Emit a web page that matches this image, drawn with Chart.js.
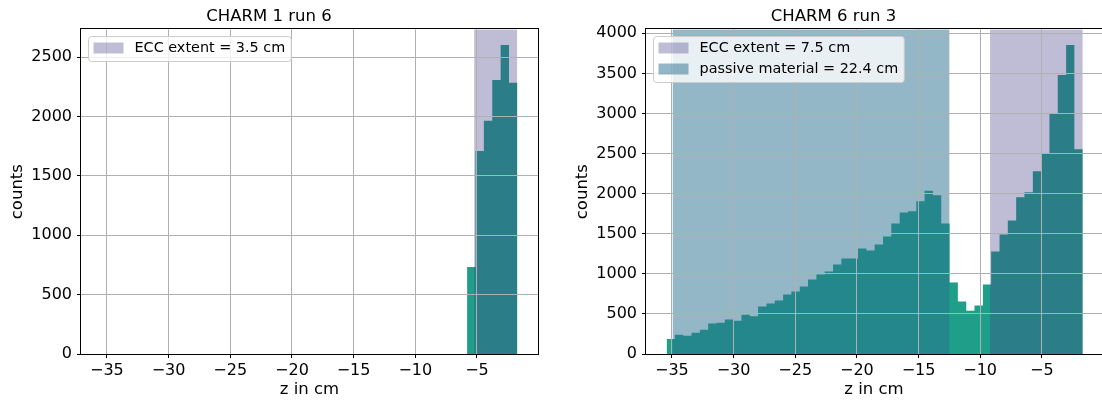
<!DOCTYPE html>
<html>
<head>
<meta charset="utf-8">
<script src="https://cdn.jsdelivr.net/npm/chart.js@4.4.1/dist/chart.umd.min.js"></script>
<style>
  body { margin: 0; background: #fff; }
  #wrap { position: relative; width: 1102px; height: 400px; overflow: hidden; }
  canvas { position: absolute; top: 0; }
</style>
</head>
<body>
<div id="wrap">
  <canvas id="chart1" width="551" height="400" style="left:0px"></canvas>
  <canvas id="chart2" width="537" height="400" style="left:565px"></canvas>
</div>
<script>
// CHARM 1 run 6
const edges1 = [-5.80, -5.12, -4.44, -3.76, -3.08, -2.40, -1.72];
const counts1 = [733, 1710, 1965, 2308, 2603, 2285];
const ecc1 = [-5.23, -1.73];

// CHARM 6 run 3
const edges2 = [-35.43, -34.76, -34.08, -33.41, -32.73, -32.06, -31.38, -30.71, -30.03, -29.36,
  -28.68, -28.01, -27.33, -26.66, -25.98, -25.31, -24.63, -23.96, -23.28, -22.61,
  -21.93, -21.26, -20.58, -19.91, -19.23, -18.56, -17.88, -17.21, -16.53, -15.86,
  -15.18, -14.51, -13.83, -13.16, -12.48, -11.81, -11.13, -10.46, -9.78, -9.11,
  -8.43, -7.76, -7.08, -6.41, -5.73, -5.06, -4.38, -3.71, -3.03, -2.36, -1.68];
const counts2 = [187, 241, 229, 266, 304, 379, 391, 429, 416, 491,
  470, 591, 629, 666, 741, 779, 841, 929, 991, 1029,
  1116, 1191, 1191, 1316, 1291, 1366, 1466, 1629, 1766, 1779,
  1904, 2035, 1979, 1629, 891, 654, 541, 604, 866, 1279,
  1491, 1666, 1954, 2016, 2279, 2504, 3004, 3479, 3854, 2554];
const ecc2 = [-9.2, -1.68];
const passive2 = [-34.95, -12.48];

// axis ticks and ranges
const xTicks = [-35, -30, -25, -20, -15, -10, -5];
const yTicks1 = [0, 500, 1000, 1500, 2000, 2500];
const yTicks2 = [0, 500, 1000, 1500, 2000, 2500, 3000, 3500, 4000];
const xMin = -37.1;
const yMax1 = 2735;
const yMax2 = 4050;

Chart.defaults.font.family = '"DejaVu Sans", sans-serif';
Chart.defaults.color = '#000';

const histColor = '#1f9e89';
const eccColor = 'rgba(66, 63, 134, 0.34)';
const passiveColor = 'rgba(41, 111, 143, 0.5)';

// histogram as a stepped line through the bin edges
function histPoints(edges, counts) {
  const pts = counts.map((c, i) => ({ x: edges[i], y: c }));
  pts.push({ x: edges[edges.length - 1], y: counts[counts.length - 1] });
  return pts;
}

function spanDataset(label, range, top, color) {
  return {
    label: label,
    data: [{ x: range[0], y: top }, { x: range[1], y: top }],
    backgroundColor: color,
    borderColor: 'transparent',
    borderWidth: 0,
    pointRadius: 0,
    fill: 'origin',
    inLegend: true
  };
}

function histDataset(edges, counts) {
  return {
    label: 'hist',
    data: histPoints(edges, counts),
    stepped: 'before',
    backgroundColor: histColor,
    borderColor: 'transparent',
    borderWidth: 0,
    pointRadius: 0,
    fill: 'origin'
  };
}

function minusFmt(v) {
  return v < 0 ? '\u2212' + Math.abs(v) : String(v);
}

// frame on all four sides like matplotlib spines
const frame = {
  id: 'frame',
  afterDraw(chart) {
    const a = chart.chartArea, ctx = chart.ctx;
    ctx.save();
    ctx.strokeStyle = '#000';
    ctx.lineWidth = 1;
    ctx.strokeRect(Math.round(a.left) - 0.5, Math.round(a.top) - 0.5,
      Math.round(a.right - a.left) + 1, Math.round(a.bottom - a.top) + 1);
    ctx.restore();
  }
};

// legend box drawn inside the plot, upper left
const legendBox = {
  id: 'legendBox',
  afterDraw(chart) {
    const a = chart.chartArea, ctx = chart.ctx;
    const items = chart.data.datasets.filter(d => d.inLegend);
    ctx.save();
    ctx.font = '14.4px "DejaVu Sans"';
    let w = 0;
    items.forEach(d => { w = Math.max(w, ctx.measureText(d.label).width); });
    const x0 = Math.round(a.left) + 7.5, y0 = Math.round(a.top) + 7.5;
    const bw = 5 + 30 + 11 + w + 6, bh = 4 + items.length * 21;
    ctx.beginPath();
    ctx.roundRect(x0, y0, bw, bh, 3);
    ctx.fillStyle = 'rgba(255,255,255,0.8)';
    ctx.fill();
    ctx.strokeStyle = '#cccccc';
    ctx.lineWidth = 1;
    ctx.stroke();
    items.forEach((d, i) => {
      const y = y0 + 6 + i * 21;
      ctx.fillStyle = d.backgroundColor;
      ctx.fillRect(x0 + 5, y, 30, 11);
      ctx.fillStyle = '#000';
      ctx.textBaseline = 'middle';
      ctx.fillText(d.label, x0 + 46, y + 5.5);
    });
    ctx.restore();
  }
};

function makeOptions(title, xMax, yMax, yTicks, padRight) {
  return {
    responsive: false,
    animation: false,
    layout: { padding: { left: 0, right: padRight, top: 0, bottom: 0 } },
    plugins: {
      legend: { display: false },
      tooltip: { enabled: false },
      title: {
        display: true,
        text: title,
        color: '#000',
        font: { size: 16.5, weight: 'normal' },
        padding: { top: 7, bottom: 2.5 }
      }
    },
    scales: {
      x: {
        type: 'linear',
        min: xMin,
        max: xMax,
        afterBuildTicks: (s) => { s.ticks = xTicks.map(v => ({ value: v })); },
        afterFit: (s) => { s.height = 46; },
        border: { display: false },
        grid: { z: 1, color: '#b0b0b0', lineWidth: 1, tickColor: '#000', tickLength: 4 },
        ticks: { z: 1, maxRotation: 0, autoSkip: false, padding: 3, font: { size: 16 }, callback: minusFmt },
        title: { display: true, text: 'z in cm', font: { size: 16.5 }, padding: { top: 0, bottom: 0 } }
      },
      y: {
        min: 0,
        max: yMax,
        afterBuildTicks: (s) => { s.ticks = yTicks.map(v => ({ value: v })); },
        afterFit: (s) => { s.width = 81; },
        border: { display: false },
        grid: { z: 1, color: '#b0b0b0', lineWidth: 1, tickColor: '#000', tickLength: 4 },
        ticks: { z: 1, autoSkip: false, padding: 5, font: { size: 16 }, callback: (v) => String(v) },
        title: { display: true, text: 'counts', font: { size: 16.5 }, padding: { top: 8, bottom: 0 } }
      }
    }
  };
}

const chart1 = new Chart(document.getElementById('chart1'), {
  type: 'line',
  data: {
    datasets: [
      spanDataset('ECC extent = 3.5 cm', ecc1, yMax1, eccColor),
      histDataset(edges1, counts1)
    ]
  },
  options: makeOptions('CHARM 1 run 6', -0.05, yMax1, yTicks1, 13),
  plugins: [frame, legendBox]
});

const chart2 = new Chart(document.getElementById('chart2'), {
  type: 'line',
  data: {
    datasets: [
      spanDataset('ECC extent = 7.5 cm', ecc2, yMax2, eccColor),
      spanDataset('passive material = 22.4 cm', passive2, yMax2, passiveColor),
      histDataset(edges2, counts2)
    ]
  },
  options: makeOptions('CHARM 6 run 3', -0.12, yMax2, yTicks2, 0),
  plugins: [frame, legendBox]
});
</script>
</body>
</html>
